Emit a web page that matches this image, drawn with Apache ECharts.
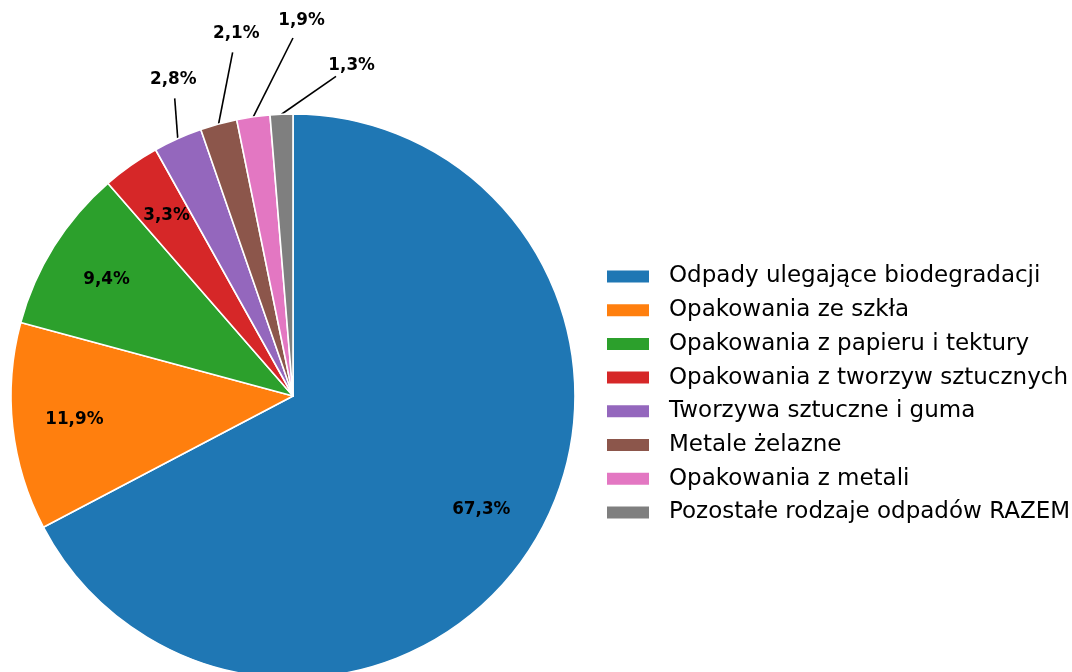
<!DOCTYPE html>
<html>
<head>
<meta charset="utf-8">
<script src="https://cdn.jsdelivr.net/npm/echarts@6/dist/echarts.min.js"></script>
<style>
  html, body { margin: 0; padding: 0; background: #ffffff; }
  #chart { width: 1072px; height: 672px; }
</style>
</head>
<body>
<div id="chart"></div>
<script>
  // dane
  const categories = [
    'Odpady ulegające biodegradacji',
    'Opakowania ze szkła',
    'Opakowania z papieru i tektury',
    'Opakowania z tworzyw sztucznych',
    'Tworzywa sztuczne i guma',
    'Metale żelazne',
    'Opakowania z metali',
    'Pozostałe rodzaje odpadów RAZEM'
  ]
  const shares = [67.3, 11.9, 9.4, 3.3, 2.8, 2.1, 1.9, 1.3]

  // wyglad
  const colors = ['#1f77b4', '#ff7f0e', '#2ca02c', '#d62728', '#9467bd', '#8c564b', '#e377c2', '#7f7f7f']
  const PIE_CX = 293
  const PIE_CY = 396
  const PIE_R = 282
  const INSIDE_LIMIT = 3          // mniejsze wycinki maja etykiete na zewnatrz
  const outerLabelRadius = [1.2, 1.3, 1.33, 1.19]

  const total = shares.reduce((a, b) => a + b, 0)
  const smallIdx = shares.map((v, i) => i).filter(i => shares[i] < INSIDE_LIMIT)

  function midAngle (i) {
    let before = 0
    for (let k = 0; k < i; k++) before += shares[k]
    return (before + shares[i] / 2) / total * Math.PI * 2
  }

  function polar (a, r) {
    return [PIE_CX + r * Math.sin(a), PIE_CY - r * Math.cos(a)]
  }

  const chart = echarts.init(document.getElementById('chart'), null, { renderer: 'canvas' })

  chart.setOption({
    animation: false,
    color: colors,
    legend: {
      orient: 'vertical',
      left: 600,
      top: 260,
      icon: 'rect',
      itemWidth: 44,
      itemHeight: 14,
      itemGap: 10.7,
      selectedMode: false,
      data: categories,
      textStyle: {
        fontFamily: 'DejaVu Sans',
        fontSize: 23,
        lineHeight: 23,
        color: '#000000',
        padding: [0, 0, 0, 14]
      }
    },
    series: [
      {
        type: 'pie',
        center: [PIE_CX, PIE_CY],
        radius: [0, PIE_R],
        startAngle: 90,
        clockwise: true,
        avoidLabelOverlap: false,
        silent: true,
        emphasis: { scale: false },
        itemStyle: {
          borderColor: '#ffffff',
          borderWidth: 1.6
        },
        label: {
          show: true,
          position: 'outside',
          fontFamily: 'DejaVu Sans',
          fontWeight: 'bold',
          fontSize: 16.8,
          color: '#000000',
          formatter: p => p.value.toFixed(1).replace('.', ',') + '%'
        },
        labelLine: {
          show: true,
          length: 20,
          length2: 0,
          lineStyle: { color: '#000000', width: 1.6 }
        },
        labelLayout: function (params) {
          const i = params.dataIndex
          const a = midAngle(i)
          if (shares[i] >= INSIDE_LIMIT) {
            const p = polar(a, PIE_R * 0.78)
            return { x: p[0], y: p[1], align: 'center', verticalAlign: 'middle' }
          }
          const k = smallIdx.indexOf(i)
          const la = a + (3.4 + 3 * k) * Math.PI / 180
          const lp = polar(la, PIE_R * outerLabelRadius[k])
          const start = polar(a, PIE_R)
          const dx = start[0] - lp[0]
          const dy = start[1] - lp[1]
          const d = Math.sqrt(dx * dx + dy * dy)
          const end = [lp[0] + dx / d * 19, lp[1] + dy / d * 19]
          return {
            x: lp[0],
            y: lp[1],
            align: 'center',
            verticalAlign: 'middle',
            labelLinePoints: [start, end]
          }
        },
        data: categories.map((name, i) => ({
          name: name,
          value: shares[i],
          labelLine: { show: shares[i] < INSIDE_LIMIT }
        }))
      }
    ]
  })
</script>
</body>
</html>
